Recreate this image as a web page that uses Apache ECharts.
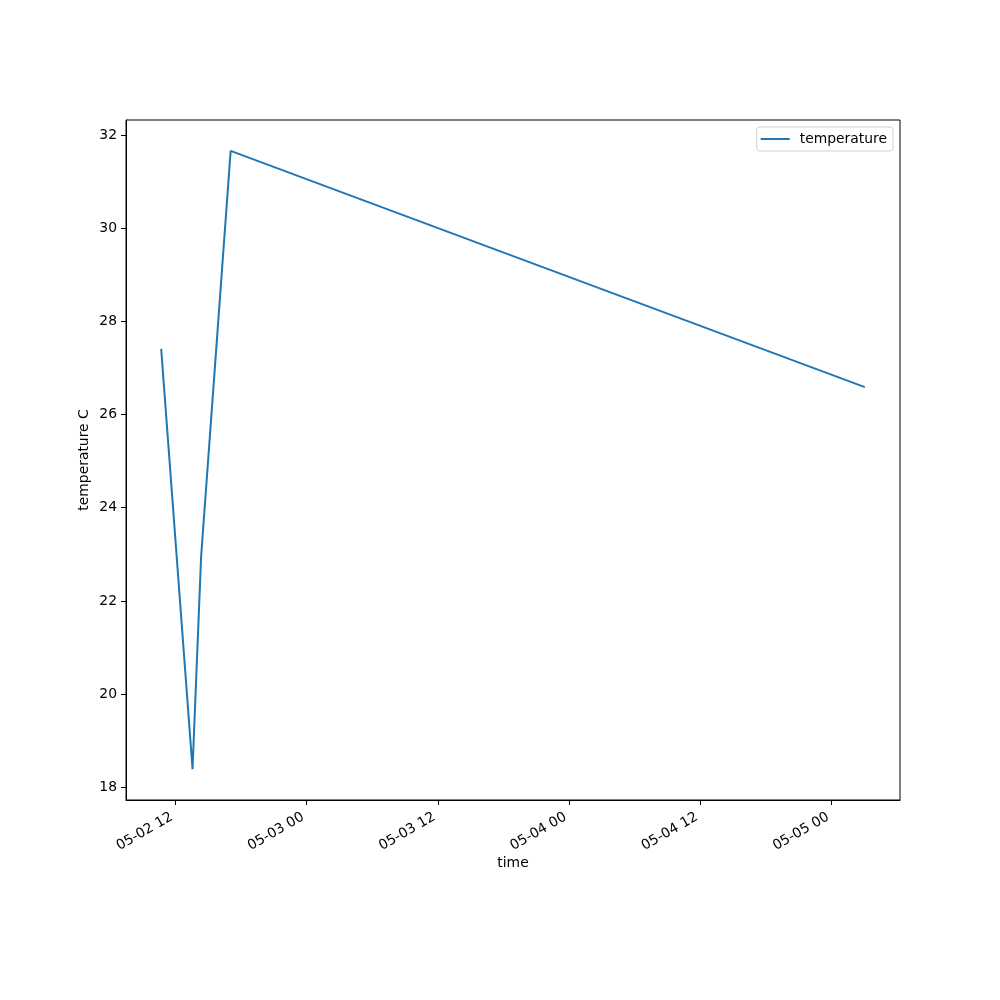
<!DOCTYPE html>
<html>
<head>
<meta charset="utf-8">
<script src="https://cdn.jsdelivr.net/npm/echarts@6/dist/echarts.min.js"></script>
<style>
html,body{margin:0;padding:0;background:#fff;}
#chart{width:1000px;height:1000px;}
</style>
</head>
<body>
<div id="chart"></div>
<script>
// Data
var times = ["2023-05-02 10:43", "2023-05-02 13:35", "2023-05-02 14:22", "2023-05-02 17:04", "2023-05-05 03:02"];
var temperature = [27.41, 18.39, 22.95, 31.66, 26.59];
var xTickLabels = ["2023-05-02 12:00", "2023-05-03 00:00", "2023-05-03 12:00", "2023-05-04 00:00", "2023-05-04 12:00", "2023-05-05 00:00"];
var yTicks = [18, 20, 22, 24, 26, 28, 30, 32];
var seriesName = "temperature";

function parseUTC(s) {
  var m = s.match(/(\d+)-(\d+)-(\d+) (\d+):(\d+)/);
  return Date.UTC(+m[1], +m[2] - 1, +m[3], +m[4], +m[5]);
}
function pad(n) { return (n < 10 ? '0' : '') + n; }
function fmt(v) {
  var d = new Date(v);
  return pad(d.getUTCMonth() + 1) + '-' + pad(d.getUTCDate()) + ' ' + pad(d.getUTCHours());
}

var xs = times.map(parseUTC);
var data = xs.map(function (x, i) { return [x, temperature[i]]; });
var xTicks = xTickLabels.map(parseUTC);

var xMinD = Math.min.apply(null, xs), xMaxD = Math.max.apply(null, xs);
var yMinD = Math.min.apply(null, temperature), yMaxD = Math.max.apply(null, temperature);
var xPad = (xMaxD - xMinD) * 0.05, yPad = (yMaxD - yMinD) * 0.05;

var font = 'DejaVu Sans';
var chart = echarts.init(document.getElementById('chart'), null, {renderer: 'canvas'});
chart.setOption({
  backgroundColor: '#fff',
  animation: false,
  textStyle: {fontFamily: font},
  grid: {left: 126, right: 100, top: 120, bottom: 200, show: true, borderColor: '#000', borderWidth: 1, backgroundColor: 'transparent'},
  legend: {
    right: 107, top: 127,
    padding: [5, 6, 5, 4],
    borderColor: '#d0d0d0', borderWidth: 1, borderRadius: 3,
    itemWidth: 29, itemHeight: 15,
    textStyle: {fontFamily: font, fontSize: 13.9, color: '#000', padding: [0, 0, 0, 5]},
    data: [{name: seriesName, icon: 'path://M0,6 L29,6 L29,8 L0,8 Z'}]
  },
  xAxis: {
    type: 'value',
    min: xMinD - xPad, max: xMaxD + xPad,
    name: 'time', nameLocation: 'middle', nameGap: 56, nameMoveOverlap: false,
    nameTextStyle: {fontFamily: font, fontSize: 13.9, color: '#000'},
    axisLine: {show: true, lineStyle: {color: '#000', width: 1}},
    axisTick: {show: true, length: 5, lineStyle: {color: '#000', width: 1}, customValues: xTicks},
    axisLabel: {show: true, rotate: 30, margin: 14, padding: [0, 4, 0, 0], fontFamily: font, fontSize: 13.9, color: '#000', customValues: xTicks, formatter: function (v) { return fmt(v); }},
    splitLine: {show: false}
  },
  yAxis: {
    type: 'value',
    min: yMinD - yPad, max: yMaxD + yPad,
    name: 'temperature C', nameLocation: 'middle', nameGap: 35, nameRotate: 90, nameMoveOverlap: false,
    nameTextStyle: {fontFamily: font, fontSize: 13.9, color: '#000'},
    axisLine: {show: true, lineStyle: {color: '#000', width: 1}},
    axisTick: {show: true, length: 5, lineStyle: {color: '#000', width: 1}, customValues: yTicks},
    axisLabel: {show: true, margin: 9, fontFamily: font, fontSize: 13.9, color: '#000', customValues: yTicks, formatter: function (v) { return String(v); }},
    splitLine: {show: false}
  },
  series: [{
    name: seriesName,
    type: 'line',
    data: data,
    symbol: 'none',
    showSymbol: false,
    lineStyle: {color: '#1f77b4', width: 2},
    itemStyle: {color: '#1f77b4'}
  }]
});
</script>
</body>
</html>
